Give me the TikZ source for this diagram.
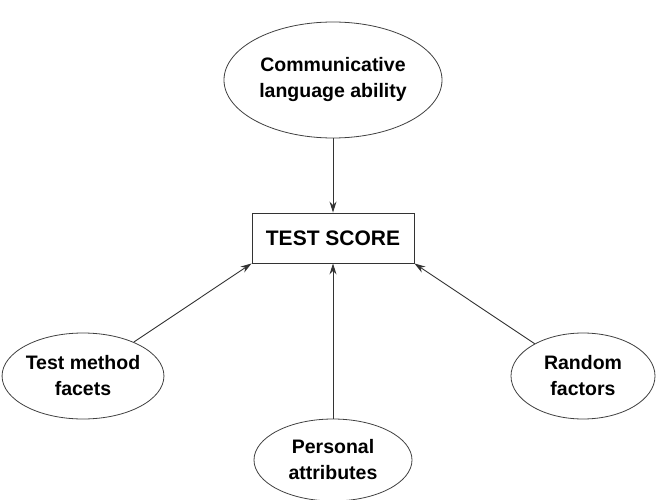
\documentclass[tikz,border=0pt]{standalone}
\usepackage{fontspec}
\setmainfont{Liberation Sans}
\usetikzlibrary{shapes.geometric,arrows.meta}
\begin{document}
\begin{tikzpicture}[x=1pt,y=-1pt,
  oval/.style={ellipse,draw=black!75,line width=0.8pt,inner sep=0pt,align=center,
    font=\fontsize{19.5}{26}\selectfont\bfseries},
  scorebox/.style={rectangle,draw=black!80,line width=0.9pt,minimum width=162pt,minimum height=50pt,
    font=\fontsize{21}{24}\selectfont\bfseries},
  conn/.style={draw=black!80,line width=0.9pt,-{Stealth[length=11pt,width=7pt]}}]
\useasboundingbox (0,0) rectangle (656,500);
\node[oval,minimum width=218pt,minimum height=116pt] (cla) at (333,80) {Communicative\\language ability};
\node[scorebox] (ts) at (333,238) {TEST SCORE};
\node[oval,minimum width=150pt,minimum height=86pt] (tm) at (83,376) {Test method\\facets};
\node[oval,minimum width=158pt,minimum height=82pt] (pa) at (333,460) {Personal\\attributes};
\node[oval,minimum width=144pt,minimum height=86pt] (rf) at (583,376) {Random\\factors};
\draw[conn] (cla) -- (ts);
\draw[conn] (tm) -- (ts.south west);
\draw[conn] (pa) -- (ts);
\draw[conn] (rf) -- (ts.south east);
\end{tikzpicture}
\end{document}
